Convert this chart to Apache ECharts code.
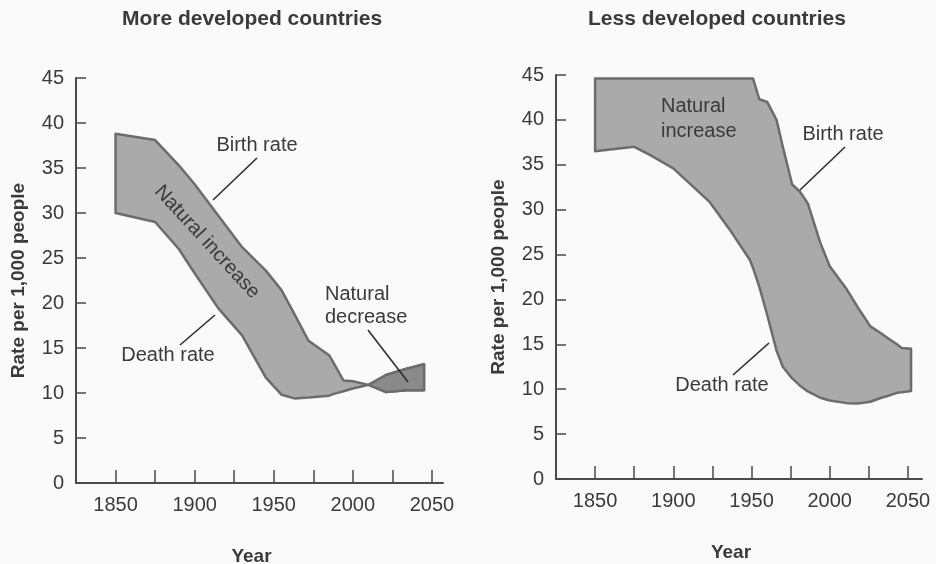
<!DOCTYPE html>
<html>
<head>
<meta charset="utf-8">
<script src="https://cdn.jsdelivr.net/npm/echarts@6/dist/echarts.min.js"></script>
<style>
  html, body { margin: 0; padding: 0; background: #fafafa; }
  #chart { width: 936px; height: 564px; }
</style>
</head>
<body>
<div id="chart"></div>
<script>
// more developed countries
var moreYears = [1850, 1875, 1890, 1900, 1915, 1930, 1945, 1955, 1963, 1972, 1985, 1988, 1994, 2000, 2010, 2021, 2034, 2045];
var moreBirth = [38.8, 38.1, 35.3, 33.2, 29.7, 26.2, 23.6, 21.4, 18.8, 15.8, 14.2, 13.3, 11.4, 11.3, 10.9, 10.1, 10.3, 10.3];
var moreDeath = [30.0, 29.0, 26.0, 23.3, 19.4, 16.4, 11.7, 9.8, 9.4, 9.5, 9.7, 9.9, 10.2, 10.5, 10.9, 12.0, 12.7, 13.2];

// less developed countries
var lessYears = [1850, 1875, 1885, 1900, 1923, 1936, 1949, 1951, 1955, 1960, 1966, 1970, 1976, 1981, 1986, 1994, 2000, 2011, 2018, 2026, 2033, 2037, 2043, 2046, 2052];
var lessBirth = [44.6, 44.6, 44.6, 44.6, 44.6, 44.6, 44.6, 44.6, 42.3, 42.0, 40.0, 37.0, 32.8, 32.0, 30.7, 26.3, 23.7, 21.1, 19.1, 17.0, 16.2, 15.7, 15.0, 14.6, 14.5];
var lessDeath = [36.5, 37.0, 36.1, 34.6, 30.9, 27.8, 24.4, 23.5, 21.4, 18.3, 14.3, 12.5, 11.2, 10.4, 9.75, 9.05, 8.75, 8.45, 8.4, 8.6, 9.05, 9.25, 9.6, 9.65, 9.8];

var yearTicks = [1850, 1875, 1900, 1925, 1950, 1975, 2000, 2025, 2050];
var yearLabels = [1850, 1900, 1950, 2000, 2050];

var textColor = '#3a3a3a';
var axisColor = '#4a4a4a';
var fontFamily = '"Liberation Sans", Arial, sans-serif';

var myChart = echarts.init(document.getElementById('chart'));

// band between birth and death rate, darker where deaths exceed births
function bandSeries(idx, years, birth, death) {
  return {
    type: 'custom',
    xAxisIndex: idx,
    yAxisIndex: idx,
    silent: true,
    z: 2,
    data: [[years[0], birth[0]]],
    renderItem: function (params, api) {
      var top = years.map(function (y, i) { return api.coord([y, birth[i]]); });
      var bottom = years.map(function (y, i) { return api.coord([y, death[i]]); });
      var children = [{
        type: 'polygon',
        shape: { points: top.concat(bottom.slice().reverse()) },
        style: { fill: '#aaaaaa', stroke: '#6c6c6c', lineWidth: 2.5, lineJoin: 'round' }
      }];
      var cross = -1;
      for (var i = 1; i < years.length; i++) {
        if (birth[i] <= death[i]) { cross = i; break; }
      }
      if (cross > 0) {
        children.push({
          type: 'polygon',
          shape: { points: top.slice(cross).concat(bottom.slice(cross).reverse()) },
          style: { fill: '#8a8a8a', stroke: '#6c6c6c', lineWidth: 2.5, lineJoin: 'round' }
        });
      }
      return { type: 'group', children: children };
    }
  };
}

function xAxisFor(idx, max) {
  return {
    type: 'value',
    gridIndex: idx,
    min: 1825,
    max: max,
    interval: 25,
    name: 'Year',
    nameLocation: 'middle',
    nameGap: 64,
    nameTextStyle: { color: textColor, fontSize: 19, fontWeight: 'bold', fontFamily: fontFamily, padding: [0, 16, 0, 0] },
    axisLine: { lineStyle: { color: axisColor, width: 2 } },
    axisTick: { inside: true, length: 13, customValues: yearTicks, lineStyle: { color: axisColor, width: 1.5 } },
    axisLabel: {
      customValues: yearLabels, margin: 12, color: textColor, fontSize: 20, fontFamily: fontFamily,
      formatter: function (v) { return String(v); }
    },
    splitLine: { show: false }
  };
}

function yAxisFor(idx) {
  return {
    type: 'value',
    gridIndex: idx,
    min: 0,
    max: 45,
    interval: 5,
    name: 'Rate per 1,000 people',
    nameLocation: 'middle',
    nameGap: 48,
    nameTextStyle: { color: textColor, fontSize: 19, fontWeight: 'bold', fontFamily: fontFamily },
    axisLine: { show: true, lineStyle: { color: axisColor, width: 2 } },
    axisTick: { show: true, inside: true, length: 10, lineStyle: { color: axisColor, width: 1.5 } },
    axisLabel: { margin: 12, color: textColor, fontSize: 20, fontFamily: fontFamily },
    splitLine: { show: false }
  };
}

function label(text, x, y, extra) {
  var style = { text: text, x: 0, y: 0, fill: textColor, font: '20px ' + fontFamily, textAlign: 'center', textVerticalAlign: 'middle' };
  for (var k in extra) style[k] = extra[k];
  return { type: 'text', x: x, y: y, z: 100, silent: true, style: style };
}

function leader(x1, y1, x2, y2) {
  return { type: 'line', z: 100, silent: true, shape: { x1: x1, y1: y1, x2: x2, y2: y2 }, style: { stroke: '#2e2e2e', lineWidth: 1.6 } };
}

var option = {
  backgroundColor: '#fafafa',
  animation: false,
  grid: [
    { left: 76, top: 78, width: 367, height: 405, outerBoundsMode: 'none' },
    { left: 556, top: 75, width: 366, height: 404, outerBoundsMode: 'none' }
  ],
  xAxis: [xAxisFor(0, 2057), xAxisFor(1, 2059)],
  yAxis: [yAxisFor(0), yAxisFor(1)],
  series: [
    bandSeries(0, moreYears, moreBirth, moreDeath),
    bandSeries(1, lessYears, lessBirth, lessDeath)
  ],
  graphic: [
    label('More developed countries', 252, 19, { font: 'bold 21px ' + fontFamily }),
    label('Less developed countries', 717, 19, { font: 'bold 21px ' + fontFamily }),

    label('Birth rate', 257, 145),
    leader(213, 200, 257, 158),
    label('Death rate', 168, 355),
    leader(180, 345, 215, 315),
    { type: 'text', x: 207, y: 242, rotation: -0.83, z: 100, silent: true,
      style: { text: 'Natural increase', fill: textColor, font: '20px ' + fontFamily, textAlign: 'center', textVerticalAlign: 'middle' } },
    label('Natural\ndecrease', 325, 283, { textAlign: 'left', textVerticalAlign: 'top', lineHeight: 23 }),
    leader(368, 330, 408, 382),

    label('Natural\nincrease', 661, 94, { textAlign: 'left', textVerticalAlign: 'top', lineHeight: 25 }),
    label('Birth rate', 843, 134),
    leader(845, 147, 800, 190),
    label('Death rate', 722, 385),
    leader(733, 375, 769, 343)
  ]
};

myChart.setOption(option);
</script>
</body>
</html>
